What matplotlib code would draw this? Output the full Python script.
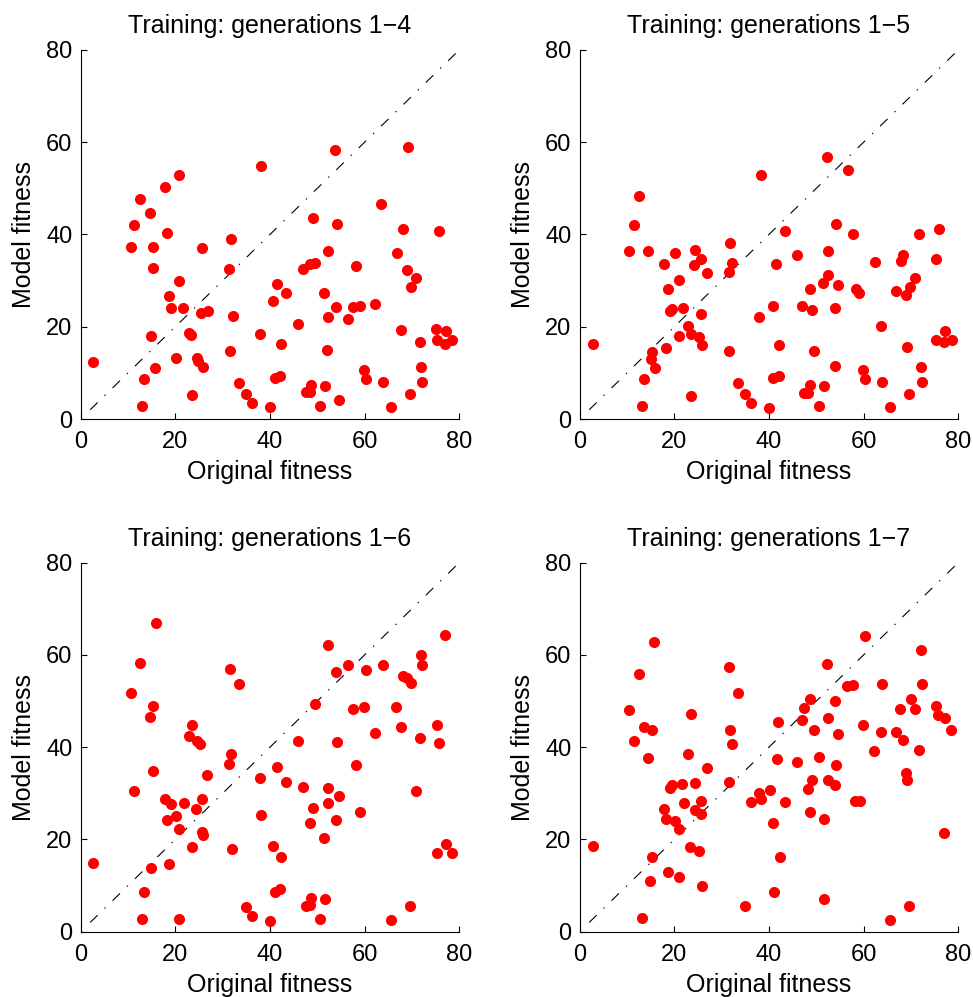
import matplotlib
matplotlib.use("Agg")
import matplotlib.pyplot as plt

plt.rcParams['font.family'] = ['Liberation Sans', 'DejaVu Sans']
plt.rcParams['lines.scale_dashes'] = False

titles = ["Training: generations 1\u22124", "Training: generations 1\u22125",
          "Training: generations 1\u22126", "Training: generations 1\u22127"]
x_label = "Original fitness"
y_label = "Model fitness"
ticks = [0, 20, 40, 60, 80]

# Panel 1: generations 1-4
orig_g4 = [53.7, 69.1, 38.2, 20.8, 17.9, 12.5, 14.6, 11.3, 18.3, 31.8, 49.0, 54.1, 63.5, 68.2, 75.7,
           10.6, 15.2, 25.6, 15.2, 31.4, 52.3, 46.9, 48.5, 49.5, 58.2, 66.8, 68.9, 70.8, 69.9, 20.8,
           18.7, 19.0, 21.7, 25.4, 27.0, 32.1, 41.4, 43.3, 40.7, 51.4, 54.0, 52.3, 57.6, 59.1, 62.2,
           56.6, 45.9, 67.7, 75.2, 77.2, 75.4, 77.0, 78.4, 71.7, 14.9, 22.8, 23.4, 37.9, 42.3, 52.1,
           2.7, 20.2, 24.5, 24.7, 25.8, 15.8, 13.4, 31.5, 41.1, 42.1, 33.4, 34.9, 36.3, 40.1, 23.6,
           13.0, 48.6, 47.7, 48.5, 51.6, 50.5, 54.5, 59.8, 60.3, 63.9, 65.6, 69.5, 71.9, 72.2]
model_g4 = [58.3, 59.0, 54.8, 53.0, 50.4, 47.7, 44.7, 42.0, 40.4, 39.1, 43.5, 42.3, 46.6, 41.2, 40.8,
            37.3, 37.3, 37.0, 32.7, 32.5, 36.5, 32.5, 33.5, 33.8, 33.2, 36.0, 32.4, 30.6, 28.6, 29.9,
            26.6, 24.0, 24.0, 23.0, 23.5, 22.3, 29.2, 27.4, 25.5, 27.4, 24.2, 22.2, 24.3, 24.5, 25.0,
            21.6, 20.7, 19.4, 19.6, 19.1, 17.1, 16.3, 17.1, 16.6, 17.9, 18.6, 18.3, 18.5, 16.2, 15.0,
            12.4, 13.3, 13.3, 12.6, 11.2, 11.0, 8.7, 14.8, 8.9, 9.4, 7.7, 5.5, 3.5, 2.5, 5.1,
            2.9, 7.4, 5.8, 5.8, 7.2, 2.9, 4.2, 10.7, 8.6, 8.1, 2.7, 5.5, 11.2, 8.1]

# Panel 2: generations 1-5
orig_g5 = [52.2, 56.7, 38.3, 12.5, 11.5, 43.3, 54.2, 57.8, 71.7, 75.9, 31.8,
           10.5, 14.5, 20.2, 17.9, 24.4, 25.6, 24.2, 27.0, 32.1, 31.5, 21.0, 18.7, 19.0, 19.6,
           21.9, 25.6, 22.9, 23.6, 25.3, 25.9, 20.9, 18.3, 15.3, 15.1, 15.9, 13.5, 13.1, 23.6,
           2.8, 31.5, 33.4, 34.9, 36.3, 40.1, 37.8, 40.8, 41.5, 45.9, 52.4, 52.4, 51.4, 54.6,
           48.6, 46.9, 49.0, 54.0, 58.3, 59.1, 62.4, 68.4, 67.9, 75.3, 70.9, 69.9, 66.8, 68.9,
           63.6, 42.2, 49.5, 53.9, 40.9, 42.1, 47.5, 48.6, 48.2, 51.6, 50.6, 59.8, 60.2, 63.9,
           65.6, 69.5, 72.1, 72.4, 69.2, 77.2, 75.4, 77.1, 78.6]
model_g5 = [56.9, 54.0, 52.9, 48.4, 42.0, 40.7, 42.3, 40.2, 40.0, 41.3, 38.2,
            36.5, 36.5, 36.0, 33.6, 36.6, 34.7, 33.3, 31.7, 33.8, 31.9, 30.1, 28.1, 23.5, 23.8,
            24.1, 22.8, 20.1, 18.4, 17.8, 16.0, 18.1, 15.3, 14.6, 12.9, 11.1, 8.6, 2.9, 5.0,
            16.3, 14.7, 7.7, 5.5, 3.4, 2.4, 22.2, 24.5, 33.6, 35.6, 36.5, 31.2, 29.4, 29.0,
            28.1, 24.6, 23.7, 24.1, 28.2, 27.3, 34.1, 35.6, 34.2, 34.7, 30.6, 28.6, 27.8, 26.8,
            20.1, 16.0, 14.7, 11.4, 8.8, 9.3, 5.6, 7.3, 5.7, 7.1, 2.9, 10.6, 8.7, 8.0,
            2.6, 5.5, 11.2, 8.0, 15.7, 19.1, 17.1, 16.7, 17.1]

# Panel 3: generations 1-6
orig_g6 = [15.9, 77.0, 52.2, 12.5, 72.0, 72.2, 63.8, 56.5, 54.0, 60.2, 31.5, 33.4, 68.1, 68.9, 69.9,
           10.6, 15.2, 14.6, 49.5, 57.6, 59.9, 66.7, 23.6, 22.9, 24.5, 25.2, 31.8, 46.0, 54.1, 62.2,
           67.8, 71.7, 75.3, 75.8,
           31.4, 15.2, 26.8, 11.3, 17.9, 19.0, 21.8, 25.6, 24.3, 18.3, 20.1, 20.8, 25.6, 25.9, 23.5,
           14.9, 18.7, 2.7, 13.4, 13.0, 20.8, 32.0, 37.8, 41.5, 43.3, 46.9, 52.3, 54.5, 52.3, 49.0,
           48.4, 53.9, 51.4, 58.2, 59.1, 70.8, 38.2, 40.7, 42.3, 41.1, 42.1, 34.9, 36.3, 40.1, 48.6,
           47.7, 48.5, 51.6, 50.5, 65.5, 69.5, 77.2, 75.4, 78.4]
model_g6 = [67.0, 64.3, 62.2, 58.2, 59.9, 57.8, 57.8, 57.9, 56.2, 56.7, 57.0, 53.6, 55.4, 54.9, 54.0,
            51.7, 49.0, 46.5, 49.3, 48.3, 48.8, 48.7, 44.8, 42.5, 41.4, 40.7, 38.5, 41.4, 41.2, 43.1,
            44.3, 42.1, 44.8, 40.9,
            36.4, 34.9, 34.0, 30.4, 28.7, 27.7, 28.0, 28.8, 26.5, 24.3, 25.1, 22.3, 21.7, 20.9, 18.3,
            13.8, 14.7, 14.9, 8.6, 2.8, 2.8, 18.0, 33.3, 35.8, 32.4, 31.3, 31.2, 29.5, 27.8, 26.9,
            23.6, 24.3, 20.4, 36.2, 25.9, 30.6, 25.3, 18.5, 16.2, 8.7, 9.2, 5.4, 3.3, 2.4, 7.3,
            5.6, 5.7, 7.1, 2.8, 2.6, 5.5, 19.1, 17.0, 17.0]

# Panel 4: generations 1-7
orig_g7 = [60.3, 15.8, 72.1, 12.5, 31.5, 52.2, 33.4, 56.6, 57.8, 63.9, 72.3, 48.6, 47.5, 53.9, 70.0,
           67.8, 70.9, 75.4, 75.7, 77.2, 78.5, 10.5, 23.6, 13.5, 15.3, 11.4, 42.0, 46.9, 52.4, 31.8,
           32.1, 49.5, 54.6, 59.8, 63.6, 66.9, 68.3, 22.9, 62.3, 71.7,
           14.5, 27.0, 41.6, 45.9, 50.6, 54.1, 31.5, 19.1, 19.5, 21.7, 24.4, 49.0, 48.3, 52.4, 54.0,
           68.9, 69.2, 37.9, 40.2, 36.2, 38.3, 43.4, 58.2, 59.2, 22.0, 25.6, 17.9, 24.3, 25.7, 18.3,
           20.2, 20.9, 48.6, 51.6, 40.9, 77.1, 2.8, 23.4, 25.3, 15.3, 42.3, 18.7, 20.9, 14.9, 25.8,
           41.1, 51.6, 34.9, 13.1, 65.6, 69.5]
model_g7 = [64.1, 62.7, 61.0, 55.9, 57.3, 58.1, 51.8, 53.2, 53.4, 53.7, 53.7, 50.4, 48.6, 50.0, 50.4,
            48.3, 48.3, 48.9, 46.9, 46.4, 43.8, 48.1, 47.2, 44.3, 43.8, 41.4, 45.5, 45.9, 46.4, 43.7,
            40.7, 43.8, 42.9, 44.9, 43.3, 43.2, 41.6, 38.5, 39.2, 39.5,
            37.6, 35.5, 37.5, 36.7, 37.8, 36.2, 32.5, 31.2, 31.9, 32.0, 32.3, 32.9, 31.0, 32.9, 31.8,
            34.4, 32.9, 30.0, 30.7, 28.2, 28.7, 28.1, 28.4, 28.4, 27.8, 28.4, 26.6, 26.3, 25.5, 24.5,
            24.1, 22.2, 25.9, 24.5, 23.6, 21.4, 18.5, 18.4, 17.6, 16.2, 16.2, 12.9, 11.8, 11.1, 9.9,
            8.7, 7.1, 5.5, 2.9, 2.6, 5.5]

diag_x = [2, 80]
diag_y = [2, 80]

panels = [(orig_g4, model_g4), (orig_g5, model_g5), (orig_g6, model_g6), (orig_g7, model_g7)]

W, H = 973, 997
fig = plt.figure(figsize=(W / 100, H / 100), dpi=100)

lefts = [80.7, 579.7]
tops = [50.0, 562.7]
aw, ah = 378.5, 369.0

for i, (xs, ys) in enumerate(panels):
    r, c = divmod(i, 2)
    l = lefts[c]
    t = tops[r]
    ax = fig.add_axes([l / W, (H - t - ah) / H, aw / W, ah / H])
    ax.plot(diag_x, diag_y, color='black', lw=0.8,
            linestyle=(0, (7.5, 7.0, 1.0, 7.0)), zorder=1)
    ax.scatter(xs, ys, s=64, color='#ff0000', linewidths=0, zorder=3, clip_on=False)
    ax.set_xlim(0, 80)
    ax.set_ylim(0, 80)
    ax.set_xticks(ticks)
    ax.set_yticks(ticks)
    ax.spines['top'].set_visible(False)
    ax.spines['right'].set_visible(False)
    ax.spines['left'].set_linewidth(0.8)
    ax.spines['bottom'].set_linewidth(0.8)
    ax.tick_params(direction='in', length=4, width=0.8, labelsize=17)
    ax.tick_params(axis='x', pad=9)
    ax.tick_params(axis='y', pad=6)
    ax.set_title(titles[i], fontsize=18, pad=12)
    ax.set_xlabel(x_label, fontsize=18, labelpad=5)
    ax.set_ylabel(y_label, fontsize=18, labelpad=7)

fig.savefig('out.png', dpi=100)
